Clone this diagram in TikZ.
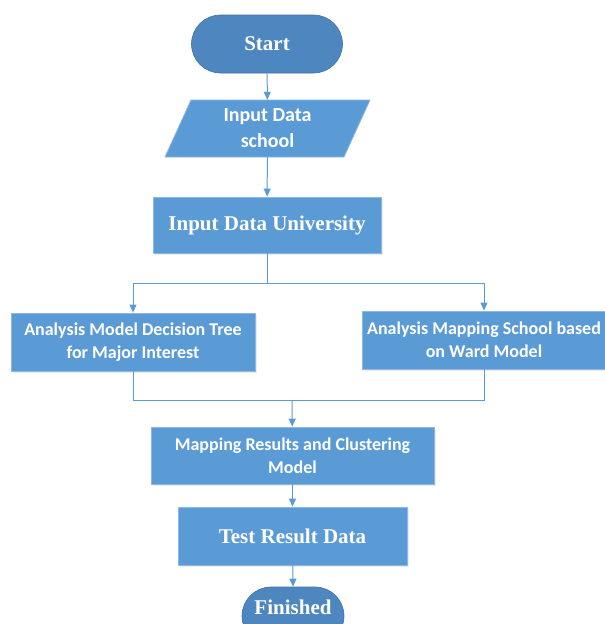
\documentclass[tikz,border=0pt]{standalone}
\usepackage{fontspec}
\setmainfont{Liberation Serif}
\newfontfamily\calib{Carlito}
\usetikzlibrary{shapes.misc,arrows.meta,shadows}
\definecolor{boxblue}{HTML}{5B9BD5}
\definecolor{termblue}{HTML}{4E86BF}
\definecolor{edgeblue}{HTML}{8CB8E2}
\definecolor{lineblue}{HTML}{5B9BD5}
\tikzset{
  procbox/.style={rectangle, fill=boxblue, draw=edgeblue, line width=0.8pt,
    inner sep=0pt, align=center, text=white,
    drop shadow={shadow xshift=1.5pt, shadow yshift=-1.5pt, opacity=0.15}},
  sanstxt/.style={font=\calib\bfseries\fontsize{18}{23}\selectfont},
  seriftxt/.style={font=\bfseries\fontsize{21}{25}\selectfont},
  termbox/.style={rounded rectangle, fill=termblue, draw=termblue!85!black, line width=0.6pt,
    inner sep=0pt, text=white, seriftxt},
  conn/.style={draw=lineblue, line width=1pt},
  arr/.style={conn, -{Triangle[length=8pt,width=7pt]}}
}
\begin{document}
\begin{tikzpicture}[x=1pt,y=-1pt]
\clip (0,0) rectangle (605,624);
\fill[white] (0,0) rectangle (605,624);
% Start
\node[termbox, minimum width=151pt, minimum height=58pt] (start) at (267,44) {Start};
% parallelogram
\fill[boxblue, draw=edgeblue, line width=0.8pt] (191,100) -- (370,100) -- (344,157) -- (165,157) -- cycle;
\node[inner sep=0pt, minimum width=150pt, minimum height=57pt, text=white, align=center, font=\calib\bfseries\fontsize{20}{26}\selectfont] (input) at (267.5,128.5) {Input Data\\school};
% Input Data University
\node[procbox, seriftxt, minimum width=228pt, minimum height=56pt] (univ) at (267,225) {Input Data University};
% Left and right analysis boxes
\node[procbox, sanstxt, minimum width=244pt, minimum height=58pt] (left) at (133,342) {Analysis Model Decision Tree\\for Major Interest};
\node[procbox, sanstxt, minimum width=244pt, minimum height=58pt] (right) at (484,340) {Analysis Mapping School based\\on Ward Model};
% Mapping
\node[procbox, sanstxt, minimum width=283pt, minimum height=57pt] (map) at (292.5,455.5) {Mapping Results and Clustering\\Model};
% Test
\node[procbox, seriftxt, minimum width=229pt, minimum height=58pt] (test) at (292.5,536) {Test Result Data};
% Finished
\node[termbox, minimum width=102pt, minimum height=58pt] (fin) at (293,616) {\raisebox{9pt}[\height][\depth]{Finished}};
% helper coordinates
\coordinate (split) at (267,283);
\coordinate (join) at (292,400);
% connectors
\draw[arr] (start) -- (input);
\draw[arr] (input) -- (univ);
\draw[conn] (univ) -- (split);
\draw[arr] (split) -| (left.north);
\draw[arr] (split) -| (right.north);
\draw[conn] (left.south) |- (join);
\draw[conn] (right.south) |- (join);
\draw[arr] (join) -- (map);
\draw[arr] (map) -- (test);
\draw[arr] (test) -- (fin.north);
\end{tikzpicture}
\end{document}
